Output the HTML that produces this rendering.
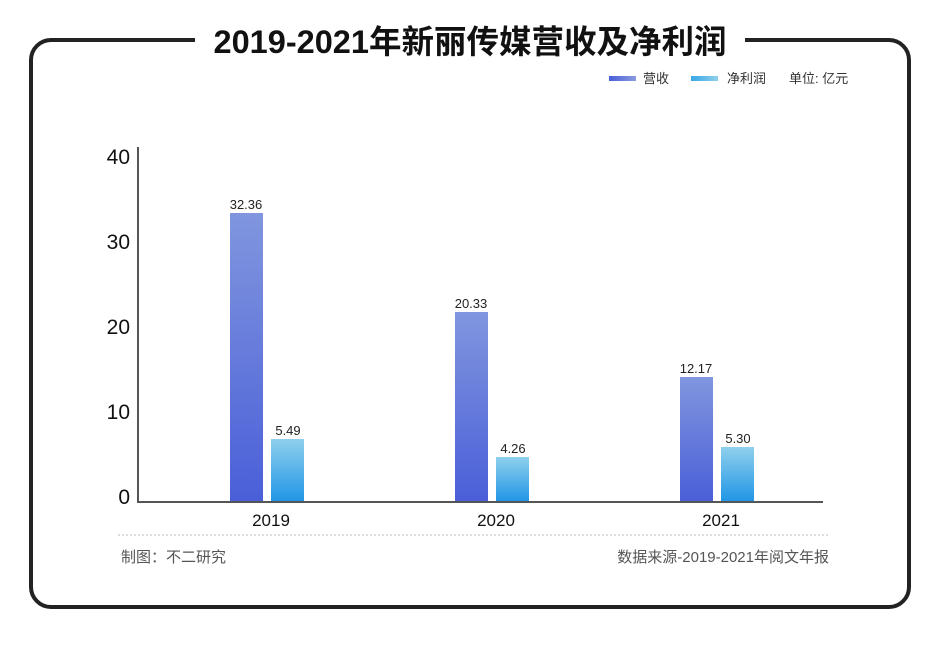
<!DOCTYPE html>
<html><head><meta charset="utf-8"><style>
body{margin:0;background:#fff;width:940px;height:644px;overflow:hidden;font-family:"Liberation Sans","Noto Sans CJK SC",sans-serif;}
</style></head><body>
<svg width="940" height="644" xmlns="http://www.w3.org/2000/svg" font-family="Liberation Sans, Noto Sans CJK SC, sans-serif">
<defs>
<linearGradient id="r" x1="0" y1="0" x2="0" y2="1"><stop offset="0" stop-color="#8196de"/><stop offset="1" stop-color="#4a5fd8"/></linearGradient>
<linearGradient id="p" x1="0" y1="0" x2="0" y2="1"><stop offset="0" stop-color="#8fd0ec"/><stop offset="1" stop-color="#2196e6"/></linearGradient>
<linearGradient id="lr" x1="0" y1="0" x2="1" y2="0"><stop offset="0" stop-color="#4a5fd8"/><stop offset="1" stop-color="#8a9be0"/></linearGradient>
<linearGradient id="lp" x1="0" y1="0" x2="1" y2="0"><stop offset="0" stop-color="#3aa6e6"/><stop offset="1" stop-color="#8fd0ec"/></linearGradient>
</defs>
<rect x="31" y="40" width="878" height="567" rx="20" fill="none" stroke="#222" stroke-width="4"/>
<rect x="195" y="20" width="550" height="40" fill="#fff"/>
<text x="470" y="53" text-anchor="middle" font-size="32.5" font-weight="bold" fill="#111">2019-2021年新丽传媒营收及净利润</text>
<rect x="609" y="76" width="27" height="5" fill="url(#lr)"/>
<text x="643" y="83" font-size="13" fill="#333">营收</text>
<rect x="691" y="76" width="27" height="5" fill="url(#lp)"/>
<text x="727" y="83" font-size="13" fill="#333">净利润</text>
<text x="789" y="83" font-size="13" fill="#333">单位: 亿元</text>
<line x1="138" y1="147" x2="138" y2="503" stroke="#555" stroke-width="2"/>
<line x1="137" y1="502" x2="823" y2="502" stroke="#555" stroke-width="2"/>
<g font-size="21" fill="#111" text-anchor="end">
<text x="130" y="164">40</text><text x="130" y="249">30</text><text x="130" y="334">20</text><text x="130" y="419">10</text><text x="130" y="504">0</text>
</g>
<rect x="230" y="213" width="33" height="288" fill="url(#r)"/>
<rect x="271" y="439" width="33" height="62" fill="url(#p)"/>
<rect x="455" y="312" width="33" height="189" fill="url(#r)"/>
<rect x="496" y="457" width="33" height="44" fill="url(#p)"/>
<rect x="680" y="377" width="33" height="124" fill="url(#r)"/>
<rect x="721" y="447" width="33" height="54" fill="url(#p)"/>
<g font-size="13" fill="#222" text-anchor="middle">
<text x="246" y="209">32.36</text><text x="288" y="435">5.49</text>
<text x="471" y="308">20.33</text><text x="513" y="453">4.26</text>
<text x="696" y="373">12.17</text><text x="738" y="443">5.30</text>
</g>
<g font-size="17" fill="#111" text-anchor="middle">
<text x="271" y="526">2019</text><text x="496" y="526">2020</text><text x="721" y="526">2021</text>
</g>
<line x1="118" y1="535" x2="830" y2="535" stroke="#bbb" stroke-dasharray="2,2"/>
<text x="121" y="562" font-size="15" fill="#555">制图：不二研究</text>
<text x="829" y="562" font-size="15" fill="#555" text-anchor="end">数据来源-2019-2021年阅文年报</text>
</svg>
</body></html>
